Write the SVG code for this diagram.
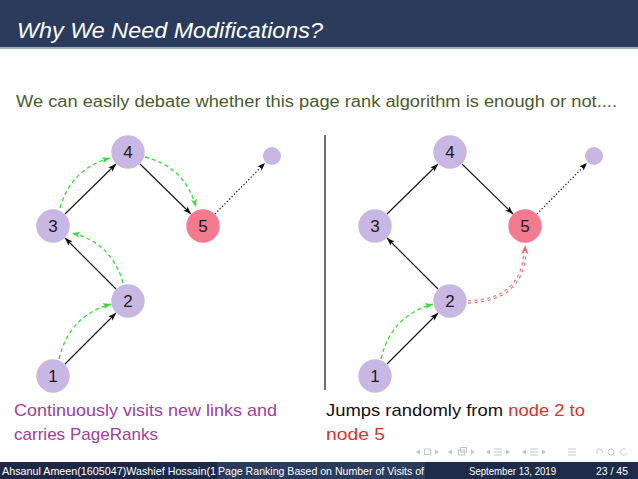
<svg xmlns="http://www.w3.org/2000/svg" width="638" height="479" viewBox="0 0 638 479">
<style>
.node{fill:#c9b7e3}
.pink{fill:#f47a90}
.lbl{font-family:"Liberation Sans",Arial,sans-serif;font-size:17px;fill:#1a1a1a;text-anchor:middle}
.blk{stroke:#111;stroke-width:1.1;fill:none}
.grn{stroke:#33dd33;stroke-width:1.3;fill:none;stroke-dasharray:4 3}
.dot{stroke:#111;stroke-width:1.3;fill:none;stroke-dasharray:1.2 2.2}
.body{font-family:"Liberation Sans",Arial,sans-serif}
.foot{font-family:"Liberation Sans",Arial,sans-serif;font-size:11px;fill:#ffffff}
.nav{fill:#c4c6d0;stroke:none}
.navs{stroke:#c4c6d0;stroke-width:1;fill:none}
</style>
<defs>
<marker id="ab" markerUnits="userSpaceOnUse" markerWidth="10" markerHeight="8" refX="8" refY="3" orient="auto"><path d="M0,0 L8,3 L0,6 L2,3 z" fill="#111"/></marker>
<marker id="ag" markerUnits="userSpaceOnUse" markerWidth="10" markerHeight="8" refX="8" refY="3" orient="auto"><path d="M0,0 L8,3 L0,6 L2,3 z" fill="#33dd33"/></marker>
<marker id="ar" markerUnits="userSpaceOnUse" markerWidth="10" markerHeight="8" refX="3" refY="3.5" orient="auto"><path d="M0,0 L9,3.5 L0,7 L2,3.5 z" fill="#e86b6b"/></marker>
</defs>
<rect x="0" y="0" width="638" height="479" fill="#ffffff"/>
<g id="header">
<rect x="0" y="0" width="638" height="47" fill="#2a3b5c"/>
<rect x="0" y="47" width="638" height="2" fill="#a6adbb"/>
<text x="17" y="38" font-family="'Liberation Sans',Arial,sans-serif" font-style="italic" font-size="22" fill="#ffffff" textLength="306" lengthAdjust="spacingAndGlyphs">Why We Need Modifications?</text>
</g>
<text class="body" x="16" y="107" font-size="16" fill="#4b5a2f" textLength="601" lengthAdjust="spacingAndGlyphs">We can easily debate whether this page rank algorithm is enough or not....</text>
<line x1="325" y1="135" x2="325" y2="390" stroke="#111" stroke-width="1.2"/>
<g id="connectors">
<path class="blk" d="M65,364 L116,313" marker-end="url(#ab)"/>
<path class="blk" d="M116,289 L65,238" marker-end="url(#ab)"/>
<path class="blk" d="M65,214 L116,164" marker-end="url(#ab)"/>
<path class="blk" d="M140,164 L191,214" marker-end="url(#ab)"/>
<path class="dot" d="M215,214 L265,163" marker-end="url(#ab)"/>
<path class="grn" d="M59,359 Q69,316 111,304" marker-end="url(#ag)"/>
<path class="grn" d="M123,283 Q112,243 72,233" marker-end="url(#ag)"/>
<path class="grn" d="M60,208 Q71,169 110,158" marker-end="url(#ag)"/>
<path class="grn" d="M145,157 Q185,167 196,207" marker-end="url(#ag)"/>
<path class="blk" d="M387,364 L438,313" marker-end="url(#ab)"/>
<path class="blk" d="M438,289 L387,238" marker-end="url(#ab)"/>
<path class="blk" d="M387,214 L438,164" marker-end="url(#ab)"/>
<path class="blk" d="M462,164 L513,214" marker-end="url(#ab)"/>
<path class="dot" d="M537,214 L587,163" marker-end="url(#ab)"/>
<path class="grn" d="M381,359 Q391,316 433,304" marker-end="url(#ag)"/>
<path d="M468,302 Q523,300 525,251" stroke="#e86b6b" stroke-width="3.4" fill="none" stroke-dasharray="3 3.5" marker-end="url(#ar)"/>
<path d="M468,302 Q523,300 525,251" stroke="#ffffff" stroke-width="1.2" fill="none" stroke-dasharray="3 3.5"/>
</g>
<g id="L1"><circle class="node" cx="53" cy="376" r="16.7"/><text class="lbl" x="53" y="382">1</text></g>
<g id="L2"><circle class="node" cx="128" cy="301" r="16.7"/><text class="lbl" x="128" y="307">2</text></g>
<g id="L3"><circle class="node" cx="53" cy="226" r="16.7"/><text class="lbl" x="53" y="232">3</text></g>
<g id="L4"><circle class="node" cx="128" cy="152" r="16.7"/><text class="lbl" x="128" y="158">4</text></g>
<g id="L5"><circle class="pink" cx="203" cy="226" r="16.7"/><text class="lbl" x="203" y="232">5</text></g>
<g id="Lx"><circle class="node" cx="272" cy="156" r="9"/></g>
<g id="R1"><circle class="node" cx="375" cy="376" r="16.7"/><text class="lbl" x="375" y="382">1</text></g>
<g id="R2"><circle class="node" cx="450" cy="301" r="16.7"/><text class="lbl" x="450" y="307">2</text></g>
<g id="R3"><circle class="node" cx="375" cy="226" r="16.7"/><text class="lbl" x="375" y="232">3</text></g>
<g id="R4"><circle class="node" cx="450" cy="152" r="16.7"/><text class="lbl" x="450" y="158">4</text></g>
<g id="R5"><circle class="pink" cx="525" cy="226" r="16.7"/><text class="lbl" x="525" y="232">5</text></g>
<g id="Rx"><circle class="node" cx="594" cy="156" r="9"/></g>
<g id="captions">
<text class="body" x="14" y="416" font-size="17" fill="#a23d9c" textLength="263" lengthAdjust="spacingAndGlyphs">Continuously visits new links and</text>
<text class="body" x="14" y="440" font-size="17" fill="#a23d9c" textLength="144" lengthAdjust="spacingAndGlyphs">carries PageRanks</text>
<text class="body" x="326" y="416" font-size="17" fill="#111111" textLength="259" lengthAdjust="spacingAndGlyphs">Jumps randomly from <tspan fill="#e0302a">node 2 to</tspan></text>
<text class="body" x="326" y="440" font-size="17" fill="#e0302a" textLength="59" lengthAdjust="spacingAndGlyphs">node 5</text>
</g>
<g id="nav">
<polygon class="nav" points="420,449.5 416,452 420,454.5"/>
<rect class="navs" x="424.5" y="449" width="6" height="5.5"/>
<polygon class="nav" points="435,449.5 439,452 435,454.5"/>
<polygon class="nav" points="452,449.5 448,452 452,454.5"/>
<rect class="navs" x="458.5" y="450" width="6" height="5"/>
<rect class="navs" x="460.5" y="447.5" width="6" height="4.5"/>
<polygon class="nav" points="471,449.5 475,452 471,454.5"/>
<polygon class="nav" points="490,449.5 486,452 490,454.5"/>
<path class="navs" d="M494,449h8M494,452h8M494,455h8"/>
<polygon class="nav" points="506,449.5 510,452 506,454.5"/>
<polygon class="nav" points="526,449.5 522,452 526,454.5"/>
<path class="navs" d="M530,449h8M530,452h8M530,455h8"/>
<polygon class="nav" points="542,449.5 546,452 542,454.5"/>
<path class="navs" d="M568,449h8M568,452h8M568,455h8"/>
<path class="navs" d="M598,454 q-3,-4 1,-5 q4,0 4,4"/>
<circle class="navs" cx="611" cy="452" r="3"/>
<path class="navs" d="M613,454 l2,2"/>
<path class="navs" d="M626,449.5 a3.2,3.2 0 1 0 1,3"/>
</g>
<g id="footer">
<rect x="0" y="462" width="217" height="17" fill="#1d2944"/>
<rect x="217" y="462" width="208" height="17" fill="#2a3b5b"/>
<rect x="425" y="462" width="213" height="17" fill="#1f2c49"/>
<text class="foot" x="2" y="475" textLength="214" lengthAdjust="spacingAndGlyphs">Ahsanul Ameen(1605047)Washief Hossain(1</text>
<text class="foot" x="218" y="475" textLength="206" lengthAdjust="spacingAndGlyphs">Page Ranking Based on Number of Visits of</text>
<text class="foot" x="469" y="475" textLength="87" lengthAdjust="spacingAndGlyphs">September 13, 2019</text>
<text class="foot" x="596" y="475" textLength="32" lengthAdjust="spacingAndGlyphs">23 / 45</text>
</g>
</svg>
